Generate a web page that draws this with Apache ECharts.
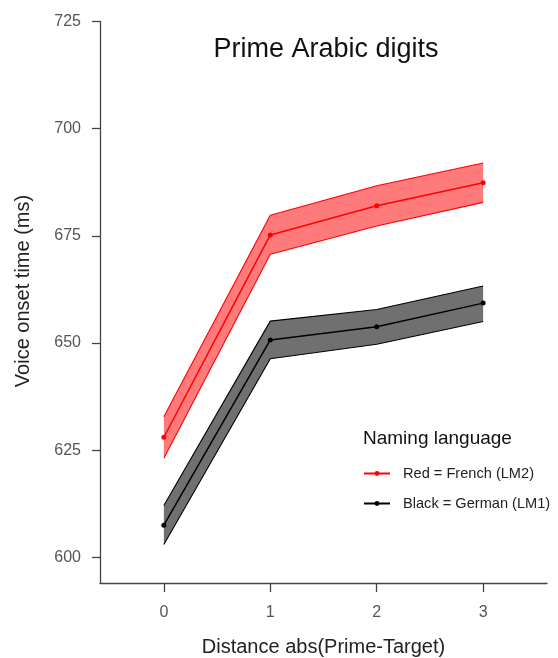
<!DOCTYPE html>
<html>
<head>
<meta charset="utf-8">
<script src="https://cdn.jsdelivr.net/npm/echarts@6/dist/echarts.min.js"></script>
<style>
html,body{margin:0;padding:0;background:#fff;}
#chart{width:558px;height:658px;}
</style>
</head>
<body>
<div id="chart"></div>
<script>
const distances = [0, 1, 2, 3];
const frenchMean  = [628.0, 675.2, 682.0, 687.4];
const frenchUpper = [632.8, 679.8, 686.7, 692.0];
const frenchLower = [623.1, 670.7, 677.3, 682.8];
const germanMean  = [607.5, 650.7, 653.8, 659.3];
const germanUpper = [612.1, 655.1, 657.8, 663.3];
const germanLower = [603.0, 646.3, 649.7, 655.0];
const yTicks = [600, 625, 650, 675, 700, 725];
const xTicks = [0, 1, 2, 3];

const FONT = '"Liberation Sans", Arial, sans-serif';
const pairs = arr => distances.map((d, i) => [d, arr[i]]);

function bandSeries(name, lower, upper, fill) {
  return {
    name: name, type: 'custom', silent: true, z: 1,
    data: distances.map((d, i) => [d, lower[i], upper[i]]),
    encode: { x: 0, y: [1, 2] },
    renderItem: function (params, api) {
      if (params.dataIndex !== 0) return null;
      const pts = [];
      for (let i = 0; i < distances.length; i++) pts.push(api.coord([distances[i], upper[i]]));
      for (let i = distances.length - 1; i >= 0; i--) pts.push(api.coord([distances[i], lower[i]]));
      return { type: 'polygon', shape: { points: pts }, style: { fill: fill, stroke: 'none' } };
    }
  };
}
function edgeSeries(name, arr, color) {
  return {
    name: name, type: 'line', data: pairs(arr), symbol: 'none', silent: true, z: 2,
    lineStyle: { color: color, width: 1.1 }
  };
}

const chart = echarts.init(document.getElementById('chart'), null, { renderer: 'canvas' });
chart.setOption({
  animation: false,
  backgroundColor: '#ffffff',
  textStyle: { fontFamily: FONT },
  title: [
    { text: 'Prime Arabic digits', left: 321, top: 31, textAlign: 'center',
      textStyle: { fontFamily: FONT, fontSize: 27, fontWeight: 'normal', color: '#111' } },
    { text: 'Naming language', left: 358, top: 424,
      textStyle: { fontFamily: FONT, fontSize: 19, fontWeight: 'normal', color: '#111' } }
  ],
  graphic: [{
    type: 'text', x: 23, y: 291, rotation: Math.PI / 2,
    style: { text: 'Voice onset time (ms)', fontFamily: FONT, fontSize: 20, fill: '#222',
      align: 'center', verticalAlign: 'middle' }
  }],
  legend: {
    data: ['Red = French (LM2)', 'Black = German (LM1)'],
    orient: 'vertical', left: 358, top: 461, itemGap: 15,
    itemWidth: 26, itemHeight: 6,
    textStyle: { fontFamily: FONT, fontSize: 14.6, color: '#222', padding: [0, 0, 0, 8] }
  },
  grid: { left: 100, right: 11, top: 21.5, bottom: 75, outerBoundsMode: 'none', containLabel: false },
  xAxis: {
    type: 'value', min: -0.6, max: 3.6,
    name: 'Distance abs(Prime-Target)', nameLocation: 'middle', nameGap: 54,
    nameTextStyle: { fontFamily: FONT, fontSize: 20, color: '#222' },
    axisLine: { show: true, onZero: false, lineStyle: { color: '#444', width: 1.3 } },
    axisTick: { show: true, length: 9, customValues: xTicks, lineStyle: { color: '#444', width: 1.3 } },
    axisLabel: { customValues: xTicks, margin: 22, fontFamily: FONT, fontSize: 16, color: '#555' },
    splitLine: { show: false }
  },
  yAxis: {
    type: 'value', min: 594, max: 725,
    axisLine: { show: true, onZero: false, lineStyle: { color: '#444', width: 1.3 } },
    axisTick: { show: true, length: 8, customValues: yTicks, lineStyle: { color: '#444', width: 1.3 } },
    axisLabel: { customValues: yTicks, margin: 19, fontFamily: FONT, fontSize: 16, color: '#555' },
    splitLine: { show: false }
  },
  series: [
    bandSeries('fr band', frenchLower, frenchUpper, 'rgba(255,0,0,0.52)'),
    bandSeries('de band', germanLower, germanUpper, 'rgba(0,0,0,0.56)'),
    edgeSeries('fr lower', frenchLower, '#ff0000'),
    edgeSeries('fr upper', frenchUpper, '#ff0000'),
    edgeSeries('de lower', germanLower, '#000000'),
    edgeSeries('de upper', germanUpper, '#000000'),
    {
      name: 'Red = French (LM2)', type: 'line', data: pairs(frenchMean),
      symbol: 'circle', symbolSize: 5, z: 5,
      itemStyle: { color: '#ff0000' }, lineStyle: { color: '#ff0000', width: 1.5 }
    },
    {
      name: 'Black = German (LM1)', type: 'line', data: pairs(germanMean),
      symbol: 'circle', symbolSize: 5, z: 5,
      itemStyle: { color: '#000000' }, lineStyle: { color: '#000000', width: 1.5 }
    }
  ]
});
</script>
</body>
</html>
